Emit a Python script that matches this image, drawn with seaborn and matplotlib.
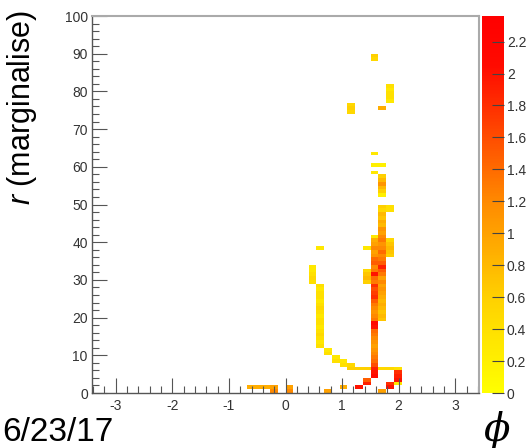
import numpy as np
import pandas as pd
import matplotlib
matplotlib.use("Agg")
import matplotlib.pyplot as plt
import seaborn as sns
from matplotlib.colors import LinearSegmentedColormap
from matplotlib.ticker import MultipleLocator, FuncFormatter

plt.rcParams["font.family"] = ["Liberation Sans", "DejaVu Sans"]
plt.rcParams["axes.unicode_minus"] = False
plt.rcParams["mathtext.fontset"] = "custom"
plt.rcParams["mathtext.it"] = "Liberation Sans:italic"
plt.rcParams["mathtext.rm"] = "Liberation Sans"

# Binning: 50 bins in phi, 100 bins of unit width in r
phi_edges = np.linspace(-3.42, 3.42, 51)
r_edges = np.arange(0, 101, 1)

# Column runs: (phi bin centre, first r bin, weights of consecutive r bins)
baseline_runs = [
    (-0.61, 1, [0.9]),
    (-0.48, 1, [0.9]),
    (-0.34, 1, [0.9]),
    (-0.20, 0, [1.2, 1.0]),
    (0.07, 0, [1.2, 1.0]),
    (0.76, 0, [1.0]),
    (1.03, 1, [0.9]),
    (1.31, 1, [2.0]),
    (1.45, 2, [1.9, 1.5]),
    (1.72, 0, [1.0]),
    (1.86, 1, [2.0, 1.8]),
    (1.99, 2, [0.3, 2.0, 1.9, 1.8, 0.4]),
]

arc_runs = [
    (0.49, 29, [0.4, 0.5, 0.4, 0.3, 0.3]),
    (0.62, 12, [0.4, 0.3, 0.4, 0.5, 0.4, 0.3, 0.4, 0.4, 0.3, 0.4,
                0.5, 0.4, 0.3, 0.4, 0.4, 0.3, 0.4]),
    (0.62, 38, [0.3]),
    (0.76, 10, [0.4, 0.3]),
    (0.90, 8, [0.4, 0.3]),
    (1.03, 7, [0.4, 0.3]),
    (1.17, 6, [0.6, 0.5]),
    (1.31, 6, [0.6]),
    (1.45, 6, [0.6]),
    (1.72, 6, [0.5]),
    (1.86, 6, [0.5]),
]

spine_runs = [
    (1.58, 4, [2.1, 2.0, 1.9, 1.6, 1.4, 1.3, 1.2, 1.1, 1.0, 1.1,
               1.2, 1.3, 1.4, 2.0, 2.1, 1.3, 1.2, 1.1, 1.2, 1.3,
               1.5, 1.8, 1.7, 1.6, 1.8, 1.3, 1.4, 2.0, 1.3, 1.2,
               1.5, 1.4, 1.1, 1.0, 1.2, 1.0, 0.9, 0.3]),
    (1.72, 19, [0.7, 0.8, 0.7, 0.8, 0.9, 0.8, 0.9, 1.0, 1.1, 1.0,
                1.2, 1.0, 1.3, 1.5, 1.9, 1.5, 1.3, 1.2, 1.4, 1.2,
                1.1, 1.3, 1.2, 1.0, 1.1, 0.8, 0.9, 0.7, 0.8, 0.5, 0.6]),
    (1.72, 52, [0.2, 0.6, 0.8, 1.1, 0.8, 0.6]),
    (1.45, 29, [0.6, 0.8, 0.7, 0.5]),
    (1.45, 38, [0.3]),
    (1.86, 36, [0.6, 0.7, 0.8, 0.7, 0.5]),
    (1.86, 48, [0.4, 0.4]),
]

upper_runs = [
    (1.58, 58, [0.3]),
    (1.58, 60, [0.2]),
    (1.72, 60, [0.2]),
    (1.58, 63, [0.3]),
    (1.17, 74, [0.5, 0.6, 0.5]),
    (1.72, 75, [0.9]),
    (1.86, 77, [0.3, 0.4, 0.4, 0.3, 0.4]),
    (1.58, 88, [0.5, 0.6]),
]

rows = []
for phi, r0, ws in baseline_runs + arc_runs + spine_runs + upper_runs:
    for i, w in enumerate(ws):
        rows.append((phi, r0 + i + 0.5, w))
df = pd.DataFrame(rows, columns=["phi", "r", "w"])

z_max = 2.36
cmap = LinearSegmentedColormap.from_list(
    "yellow_red",
    [(0.0, (1.0, 1.0, 0.0)), (0.25, (1.0, 0.82, 0.0)), (0.5, (1.0, 0.55, 0.0)),
     (0.75, (1.0, 0.2, 0.0)), (0.87, (1.0, 0.04, 0.0)), (1.0, (1.0, 0.0, 0.0))])

W, H = 529, 448
fig = plt.figure(figsize=(W / 100, H / 100), dpi=100)
ax = fig.add_axes([92 / W, 1 - 393 / H, (479 - 92) / W, (393 - 16) / H])
cax = fig.add_axes([482 / W, 1 - 393 / H, 22 / W, (393 - 16) / H])

sns.histplot(data=df, x="phi", y="r", weights="w", bins=[phi_edges, r_edges],
             cmap=cmap, vmin=0, vmax=z_max, ax=ax, cbar=True, cbar_ax=cax)

ax.set_xlim(-3.42, 3.42)
ax.set_ylim(0, 100)
ax.set_xlabel("")
ax.set_ylabel("")
ax.xaxis.set_major_locator(MultipleLocator(1))
ax.xaxis.set_minor_locator(MultipleLocator(0.2))
ax.yaxis.set_major_locator(MultipleLocator(10))
ax.yaxis.set_minor_locator(MultipleLocator(2))
tick_col = "#555555"
ax.tick_params(which="both", direction="in", colors=tick_col, labelcolor="#333333",
               labelsize=10, top=False, right=False, width=0.8)
ax.tick_params(which="major", length=11)
ax.tick_params(which="minor", length=5)
ax.tick_params(axis="x", pad=4)
ax.tick_params(axis="y", pad=3)
for s in ["left", "bottom"]:
    ax.spines[s].set_color(tick_col)
    ax.spines[s].set_linewidth(1.0)
for s in ["top", "right"]:
    ax.spines[s].set_color("#aaaaaa")
    ax.spines[s].set_linewidth(1.5)

cbar = ax.collections[0].colorbar
cbar.outline.set_visible(False)
cbar.set_ticks(np.round(np.arange(0, 2.21, 0.2), 1))
cbar.ax.yaxis.set_major_formatter(FuncFormatter(lambda v, p: f"{v:g}"))
cax.tick_params(direction="in", length=9, width=0.8, color="#444444",
                labelsize=10, labelcolor="#333333", pad=2)

fig.text(22 / W, 1 - 107 / H, "$r$ (marginalise)", rotation=90,
         ha="center", va="center", fontsize=22)
fig.text(497 / W, 1 - 430 / H, "\u03d5", fontfamily="DejaVu Serif",
         style="italic", ha="center", va="center", fontsize=28)
fig.text(2 / W, 1 - 441 / H, "6/23/17", ha="left", va="baseline", fontsize=24)

fig.savefig("out.png", dpi=100)
